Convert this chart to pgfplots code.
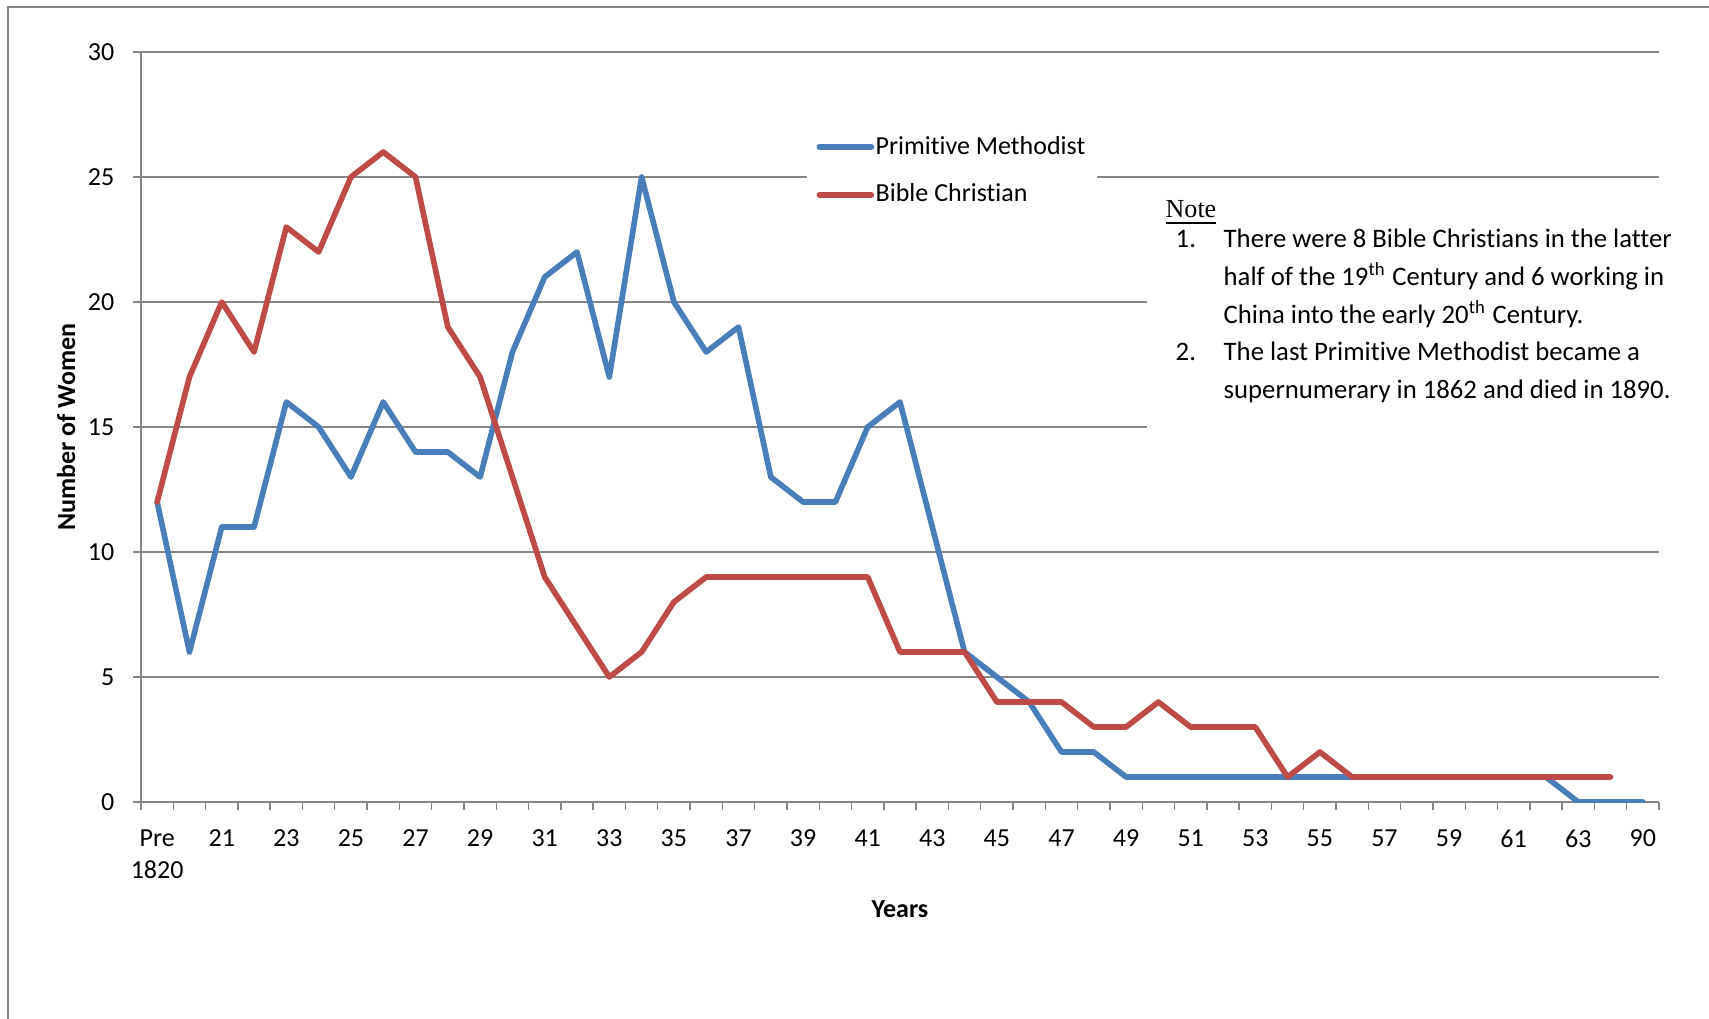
\documentclass[border=0pt]{standalone}
\usepackage{fontspec}
\setmainfont{Carlito}[Ligatures={NoCommon}, RawFeature={-liga;-clig;-calt;-dlig;-hlig}]
\newfontfamily\timesfont{Liberation Serif}
\usepackage{pgfplots}
\pgfplotsset{compat=1.18}
\definecolor{pmblue}{HTML}{4A7EBB}
\definecolor{bcred}{HTML}{BE4B48}
\definecolor{gridgray}{HTML}{868686}
\newcommand{\nt}{t\kern0pt }
\begin{document}
\fontsize{7.4}{9.1}\selectfont
\begin{tikzpicture}
\useasboundingbox (0,0) rectangle (170.9mm,101.8mm);
\draw[gridgray, line width=0.4pt] (0.8mm,-5mm) -- (0.8mm,101.1mm) -- (175mm,101.1mm);
\begin{axis}[
  at={(14.1mm,21.6mm)}, anchor=south west,
  scale only axis, width=151.8mm, height=75mm,
  xmin=-0.5, xmax=46.5, ymin=0, ymax=30,
  axis x line*=bottom, axis y line*=left,
  axis line style={gridgray, line width=0.45pt},
  xtick={-0.5,0.5,...,46.5}, xticklabels={},
  extra x ticks={0,2,...,46},
  extra x tick labels={{Pre\\1820},21,23,25,27,29,31,33,35,37,39,41,43,45,47,49,51,53,55,57,59,61,63,90},
  extra x tick style={major tick length=0pt, xticklabel style={align=center, inner sep=0pt, anchor=north, yshift=-2.7mm}},
  ytick={0,5,...,30},
  yticklabel style={inner sep=0pt, anchor=east, xshift=-1.8mm},
  /pgf/number format/assume math mode=true,
  ymajorgrids,
  major grid style={gridgray, line width=0.4pt},
  tick style={gridgray, line width=0.4pt},
  tick align=outside, major tick length=0.8mm,
  xlabel={\bfseries Years}, ylabel={\bfseries Number of Women},
  every axis x label/.style={at={(axis description cs:0.5,-0.1427)}, anchor=center},
  every axis y label/.style={at={(axis description cs:-0.0494,0.5)}, rotate=90, anchor=center},
  legend style={at={(axis description cs:0.438,0.909)}, anchor=north west, draw=none, fill=white,
    inner xsep=1mm, inner ysep=1mm, row sep=1.6mm, nodes={inner ysep=0.5mm, inner xsep=0.15mm}},
  legend cell align=left,
  legend image code/.code={\draw[#1] (0.3mm,0mm) -- (5.5mm,0mm);},
]
\addplot[pmblue, line width=1.6pt, line join=round, line cap=round] coordinates {
(0,12)(1,6)(2,11)(3,11)(4,16)(5,15)(6,13)(7,16)(8,14)(9,14)(10,13)(11,18)(12,21)(13,22)(14,17)(15,25)
(16,20)(17,18)(18,19)(19,13)(20,12)(21,12)(22,15)(23,16)(24,11)(25,6)(26,5)(27,4)(28,2)(29,2)
(30,1)(31,1)(32,1)(33,1)(34,1)(35,1)(36,1)(37,1)(38,1)(39,1)(40,1)(41,1)(42,1)(43,1)(44,0)(45,0)(46,0)};
\addlegendentry{Primi\nt ive Methodist}
\addplot[bcred, line width=1.6pt, line join=round, line cap=round] coordinates {
(0,12)(1,17)(2,20)(3,18)(4,23)(5,22)(6,25)(7,26)(8,25)(9,19)(10,17)(11,13)(12,9)(13,7)(14,5)(15,6)
(16,8)(17,9)(18,9)(19,9)(20,9)(21,9)(22,9)(23,6)(24,6)(25,6)(26,4)(27,4)(28,4)(29,3)(30,3)(31,4)
(32,3)(33,3)(34,3)(35,1)(36,2)(37,1)(38,1)(39,1)(40,1)(41,1)(42,1)(43,1)(44,1)(45,1)};
\addlegendentry{Bible Chris\nt ian}
\end{axis}
\fill[white] (114.7mm,57.8mm) rectangle (172mm,83.6mm);
\node[anchor=base west, inner sep=0pt] at (116.5mm,80.0mm) {\timesfont\underline{Note}};
\begin{scope}[every node/.style={anchor=base west, inner sep=0pt, font=\fontsize{7.6}{9.1}\selectfont}]
\node at (117.5mm,77.0mm) {1.};
\node at (122.3mm,77.0mm) {There were 8 Bible Chris\nt ians in the latter};
\node at (122.3mm,73.25mm) {half of the 19\textsuperscript{th} Century and 6 working in};
\node at (122.3mm,69.5mm) {China into the early 20\textsuperscript{th} Century.};
\node at (117.5mm,65.75mm) {2.};
\node at (122.3mm,65.75mm) {The last Primi\nt ive Methodist became a};
\node at (122.3mm,62.0mm) {supernumerary in 1862 and died in 1890.};
\end{scope}
\end{tikzpicture}
\end{document}
